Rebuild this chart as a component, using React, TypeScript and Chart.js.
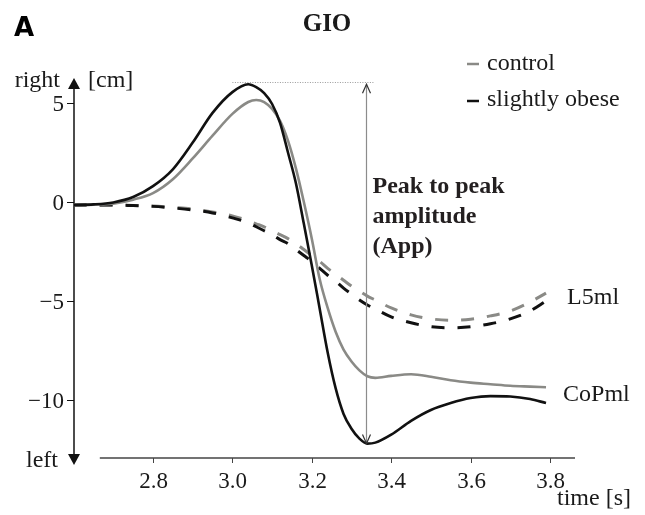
import React, { useEffect, useRef } from 'react';
import { Chart, registerables } from 'chart.js';

Chart.register(...registerables);

// time [s]
const TIME = [2.60, 2.65, 2.70, 2.75, 2.80, 2.85, 2.90, 2.95, 3.00, 3.04, 3.06, 3.08, 3.10, 3.12, 3.14, 3.16, 3.18, 3.20, 3.22, 3.24, 3.26, 3.28, 3.30, 3.32, 3.34, 3.36, 3.40, 3.45, 3.50, 3.55, 3.60, 3.65, 3.70, 3.75, 3.79];

// CoPml, slightly obese (black solid)
const OBESE_COP = [-0.15, -0.12, -0.02, 0.25, 0.8, 1.65, 3.0, 4.5, 5.55, 5.95, 5.8, 5.5, 4.95, 4.0, 2.5, 0.95, -1.1, -3.2, -5.4, -7.6, -9.4, -10.7, -11.45, -11.95, -12.2, -12.15, -11.75, -11.05, -10.5, -10.15, -9.9, -9.8, -9.82, -9.95, -10.15];

// CoPml, control (gray solid)
const CONTROL_COP = [-0.15, -0.13, -0.08, 0.12, 0.45, 1.15, 2.2, 3.35, 4.45, 5.05, 5.15, 5.05, 4.7, 4.1, 3.1, 1.7, 0.0, -1.85, -3.9, -5.35, -6.55, -7.45, -8.05, -8.5, -8.8, -8.88, -8.78, -8.7, -8.82, -9.0, -9.12, -9.2, -9.28, -9.32, -9.35];

// L5ml, control (gray dashed)
const CONTROL_L5 = [-0.15, -0.15, -0.15, -0.17, -0.2, -0.27, -0.35, -0.5, -0.7, -0.95, -1.1, -1.25, -1.45, -1.65, -1.85, -2.1, -2.4, -2.7, -3.0, -3.35, -3.65, -3.95, -4.25, -4.5, -4.75, -4.95, -5.35, -5.7, -5.9, -5.97, -5.92, -5.75, -5.5, -5.05, -4.6];

// L5ml, slightly obese (black dashed)
const OBESE_L5 = [-0.15, -0.15, -0.15, -0.18, -0.22, -0.3, -0.4, -0.55, -0.8, -1.05, -1.25, -1.45, -1.65, -1.9, -2.1, -2.4, -2.7, -3.0, -3.35, -3.7, -4.0, -4.35, -4.65, -4.95, -5.2, -5.4, -5.8, -6.1, -6.3, -6.35, -6.3, -6.15, -5.9, -5.5, -5.0];

const X_TICKS = [2.8, 3.0, 3.2, 3.4, 3.6, 3.8];
const Y_TICKS = [5, 0, -5, -10];
const X_MIN = 2.601;
const X_MAX = 3.863;
const Y_MIN = -13.28;
const Y_MAX = 6.414;
const X_AXIS_START = 2.666;
const APP_TIME = 3.336;
const DOTTED_START = 3.0;

const LEGEND_LABELS = ['control', 'slightly obese'];
const SERIES_LABELS = ['L5ml', 'CoPml'];
const APP_LINES = ['Peak to peak', 'amplitude', '(App)'];

const GRAY = '#8a8a86';
const BLACK = '#111111';
const TEXT = '#1a1a1a';
const SERIF = '"Liberation Serif", "Times New Roman", serif';

export default function App() {
  const ref = useRef<HTMLCanvasElement>(null);

  useEffect(() => {
    const canvas = ref.current;
    if (!canvas) return;
    const mk = (vals: number[]) => TIME.map((t, i) => ({ x: t, y: vals[i] }));

    const annot = {
      id: 'annot',
      beforeDatasetsDraw(chart: any) {
        const ctx = chart.ctx as CanvasRenderingContext2D;
        const xs = chart.scales.x;
        const ys = chart.scales.y;
        const area = chart.chartArea;
        ctx.save();
        // y axis
        const yx = area.left;
        const topTip = area.top + 3;
        const botTip = area.bottom;
        ctx.strokeStyle = '#111';
        ctx.lineWidth = 1.5;
        ctx.beginPath();
        ctx.moveTo(yx, topTip + 8);
        ctx.lineTo(yx, botTip - 8);
        ctx.stroke();
        ctx.fillStyle = '#111';
        ctx.beginPath();
        ctx.moveTo(yx, topTip);
        ctx.lineTo(yx - 6, topTip + 11);
        ctx.lineTo(yx + 6, topTip + 11);
        ctx.closePath();
        ctx.fill();
        ctx.beginPath();
        ctx.moveTo(yx, botTip);
        ctx.lineTo(yx - 6, botTip - 11);
        ctx.lineTo(yx + 6, botTip - 11);
        ctx.closePath();
        ctx.fill();
        // y ticks
        ctx.lineWidth = 1;
        ctx.font = `23px ${SERIF}`;
        ctx.fillStyle = TEXT;
        ctx.textAlign = 'right';
        ctx.textBaseline = 'alphabetic';
        Y_TICKS.forEach((v) => {
          const py = Math.round(ys.getPixelForValue(v)) + 0.5;
          ctx.beginPath();
          ctx.moveTo(yx - 7, py);
          ctx.lineTo(yx, py);
          ctx.stroke();
          const label = v < 0 ? '\u2212' + Math.abs(v) : String(v);
          ctx.fillText(label, yx - 10, py + 7.5);
        });
        // x axis
        const axY = area.bottom - 7;
        ctx.strokeStyle = '#444';
        ctx.lineWidth = 1.5;
        ctx.beginPath();
        ctx.moveTo(xs.getPixelForValue(X_AXIS_START), axY);
        ctx.lineTo(area.right, axY);
        ctx.stroke();
        ctx.lineWidth = 1;
        ctx.textAlign = 'center';
        X_TICKS.forEach((v) => {
          const px = Math.round(xs.getPixelForValue(v)) + 0.5;
          ctx.beginPath();
          ctx.moveTo(px, axY);
          ctx.lineTo(px, axY + 5);
          ctx.stroke();
          ctx.fillText(v.toFixed(1), px, axY + 30);
        });
        // axis texts
        ctx.font = `24px ${SERIF}`;
        ctx.textAlign = 'right';
        ctx.fillText('right', 60, 87);
        ctx.fillText('left', 58, 467);
        ctx.textAlign = 'left';
        ctx.fillText('[cm]', 88, 87);
        ctx.fillText('time [s]', 557, 505);
        ctx.restore();
      },
      afterDatasetsDraw(chart: any) {
        const ctx = chart.ctx as CanvasRenderingContext2D;
        const xs = chart.scales.x;
        const ys = chart.scales.y;
        ctx.save();
        // peak-to-peak arrow
        const ax = Math.round(xs.getPixelForValue(APP_TIME)) + 0.5;
        const yTop = ys.getPixelForValue(Math.max(...OBESE_COP));
        const yBot = ys.getPixelForValue(Math.min(...OBESE_COP));
        ctx.strokeStyle = '#8c8c8c';
        ctx.lineWidth = 1.2;
        ctx.beginPath();
        ctx.moveTo(ax, yTop);
        ctx.lineTo(ax, yBot);
        ctx.stroke();
        ctx.strokeStyle = '#333';
        ctx.beginPath();
        ctx.moveTo(ax - 4, yTop + 9);
        ctx.lineTo(ax, yTop);
        ctx.lineTo(ax + 4, yTop + 9);
        ctx.stroke();
        ctx.beginPath();
        ctx.moveTo(ax - 4, yBot - 9);
        ctx.lineTo(ax, yBot);
        ctx.lineTo(ax + 4, yBot - 9);
        ctx.stroke();
        // dotted line at the peak
        ctx.strokeStyle = '#9a9a9a';
        ctx.lineWidth = 1;
        ctx.setLineDash([1, 1.5]);
        ctx.beginPath();
        ctx.moveTo(xs.getPixelForValue(DOTTED_START), Math.round(yTop) - 1.5);
        ctx.lineTo(ax + 8, Math.round(yTop) - 1.5);
        ctx.stroke();
        ctx.setLineDash([]);
        // App text
        ctx.fillStyle = '#231f20';
        ctx.font = `bold 24px ${SERIF}`;
        ctx.textAlign = 'left';
        ctx.textBaseline = 'alphabetic';
        APP_LINES.forEach((t, i) => ctx.fillText(t, ax + 6, 193 + i * 30));
        // series labels
        ctx.fillStyle = TEXT;
        ctx.font = `24px ${SERIF}`;
        ctx.textBaseline = 'middle';
        ctx.fillText(SERIES_LABELS[0], xs.getPixelForValue(3.843), ys.getPixelForValue(-4.85));
        ctx.fillText(SERIES_LABELS[1], xs.getPixelForValue(3.833), ys.getPixelForValue(-9.75));
        // title & panel letter
        ctx.textBaseline = 'alphabetic';
        ctx.textAlign = 'center';
        ctx.font = `bold 25px ${SERIF}`;
        ctx.fillText('GIO', 327, 31);
        ctx.textAlign = 'left';
        ctx.fillStyle = '#000';
        ctx.font = `bold 26px "DejaVu Sans", "Liberation Sans", sans-serif`;
        ctx.fillText('A', 14, 36);
        // legend
        ctx.font = `24px ${SERIF}`;
        const legendColors = [GRAY, BLACK];
        const legendY = [64, 101];
        const textY = [70, 106];
        LEGEND_LABELS.forEach((t, i) => {
          ctx.strokeStyle = legendColors[i];
          ctx.lineWidth = 2.5;
          ctx.beginPath();
          ctx.moveTo(467, legendY[i]);
          ctx.lineTo(479, legendY[i]);
          ctx.stroke();
          ctx.fillStyle = TEXT;
          ctx.fillText(t, 487, textY[i]);
        });
        ctx.restore();
      },
    };

    const common = { pointRadius: 0, fill: false, cubicInterpolationMode: 'monotone' as const };
    const chart = new Chart(canvas, {
      type: 'line',
      data: {
        datasets: [
          { label: 'slightly obese CoPml', data: mk(OBESE_COP), borderColor: BLACK, borderWidth: 2.6, ...common },
          { label: 'control CoPml', data: mk(CONTROL_COP), borderColor: GRAY, borderWidth: 2.6, ...common },
          { label: 'slightly obese L5ml', data: mk(OBESE_L5), borderColor: BLACK, borderWidth: 3, borderDash: [13, 13], ...common },
          { label: 'control L5ml', data: mk(CONTROL_L5), borderColor: GRAY, borderWidth: 3, borderDash: [13, 13], ...common },
        ],
      },
      options: {
        responsive: false,
        animation: false,
        devicePixelRatio: 1,
        events: [],
        layout: { padding: { left: 74, right: 70, top: 75, bottom: 50 } },
        scales: {
          x: { type: 'linear', min: X_MIN, max: X_MAX, display: false },
          y: { type: 'linear', min: Y_MIN, max: Y_MAX, display: false },
        },
        plugins: {
          legend: { display: false },
          tooltip: { enabled: false },
          title: { display: false },
        },
      },
      plugins: [annot],
    });
    return () => chart.destroy();
  }, []);

  return (
    <div style={{ position: 'fixed', left: 0, top: 0, width: 645, height: 515, background: '#fff' }}>
      <canvas ref={ref} width={645} height={515} style={{ display: 'block' }} />
    </div>
  );
}
